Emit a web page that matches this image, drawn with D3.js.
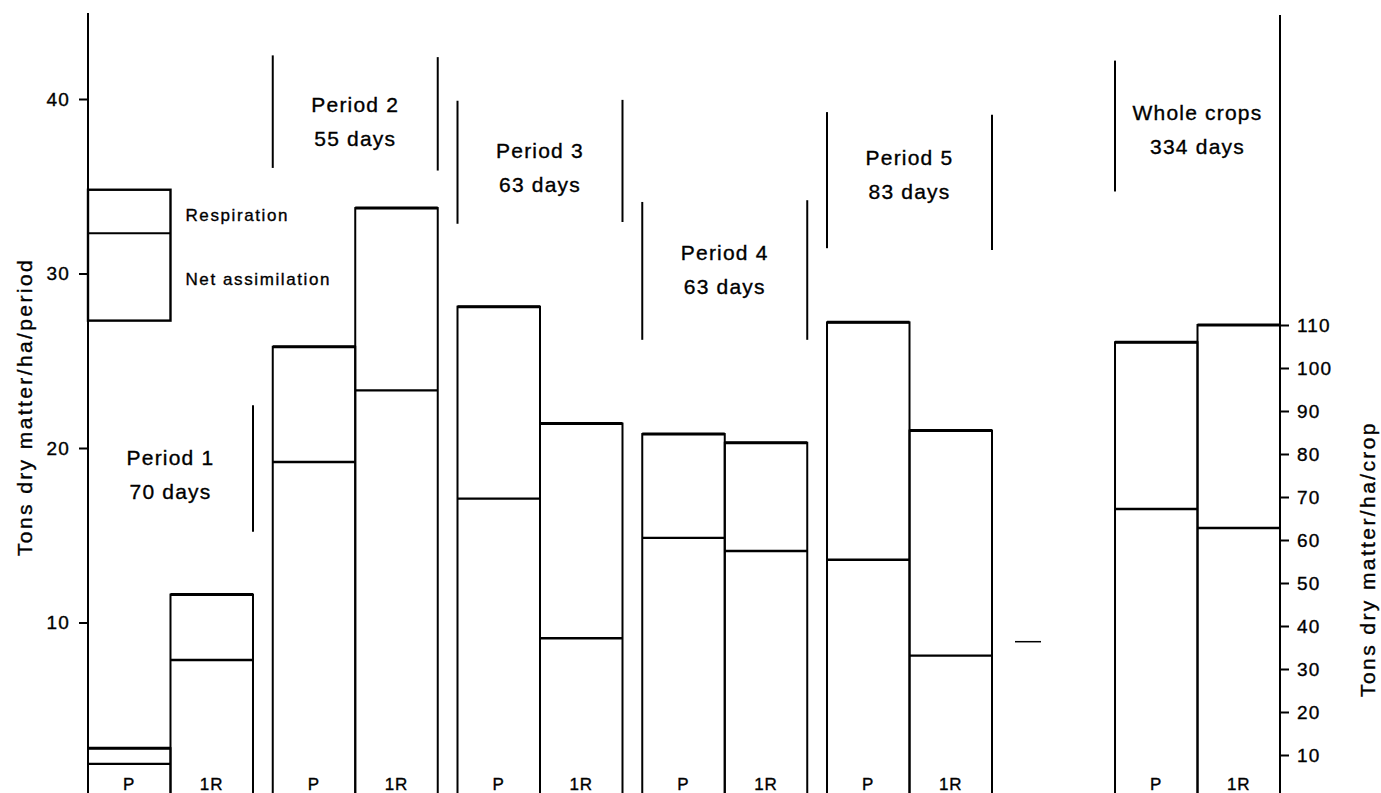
<!DOCTYPE html>
<html>
<head>
<meta charset="utf-8">
<script src="https://cdn.jsdelivr.net/npm/d3@7"></script>
<style>
  body { margin: 0; background: #fff; }
  svg { display: block; font-family: "Liberation Sans", Arial, sans-serif; }
  svg text { stroke: #000; stroke-width: 0.35px; }
</style>
</head>
<body>
<div id="container"></div>
<script>
/* CONSTANTS AND GLOBALS */
const width = 1381;
const height = 793;
const axisLeftX = 88;
const axisRightX = 1280;

/* DATA */
const periods = ["Period 1", "Period 2", "Period 3", "Period 4", "Period 5"];
const periodDays = ["70 days", "55 days", "63 days", "63 days", "83 days"];
const crops = ["P", "1R"];
// tons dry matter / ha / period (left axis)
const totalP = [2.8, 25.8, 28.1, 20.8, 27.2];
const netP = [1.9, 19.2, 17.1, 14.85, 13.6];
const total1R = [11.6, 33.75, 21.4, 20.3, 21.0];
const net1R = [7.85, 23.3, 9.1, 14.1, 8.1];
// whole crops, tons dry matter / ha / crop (right axis)
const wholeName = "Whole crops";
const wholeDays = "334 days";
const wholeTotal = [106, 110];
const wholeNet = [67.2, 62.8];
// legend levels (left axis units)
const legendLevels = [27.3, 32.3, 34.8];
const legendLabels = ["Net assimilation", "Respiration"];
// bracket lines beside the period titles [top, bottom] in left axis units
const bracketLeft = [null, [42.5, 36.05], [39.9, 32.85], [34.1, 26.2], [39.25, 31.45], [42.2, 34.7]];
const bracketRight = [[22.45, 15.2], [42.4, 35.9], [39.95, 32.95], [34.2, 26.2], [39.1, 31.35], null];
const titleAt = [19.0, 39.25, 36.6, 30.75, 36.2, 38.8];
const leftTicks = [10, 20, 30, 40];
const rightTicks = [10, 20, 30, 40, 50, 60, 70, 80, 90, 100, 110];

const svg = d3.select("#container").append("svg")
  .attr("width", width)
  .attr("height", height);

/* SCALES */
const yLeft = d3.scaleLinear().domain([0, 40]).range([797, 99]);
const yRight = d3.scaleLinear().domain([0, 110]).range([798, 325]);

const xGroup = d3.scaleBand()
  .domain(periods)
  .range([axisLeftX, 992])
  .paddingInner(0.107)
  .paddingOuter(0);
const bw = xGroup.bandwidth();
// whole crops sit against the right axis
const groupStart = name => name === wholeName ? axisRightX - bw : xGroup(name);
const xCrop = d3.scaleBand().domain(crops).range([0, bw]).padding(0);

const groupNames = periods.concat([wholeName]);
const groupDays = periodDays.concat([wholeDays]);

const bars = [];
periods.forEach((p, i) => {
  bars.push({ group: p, crop: "P", total: totalP[i], net: netP[i], y: yLeft });
  bars.push({ group: p, crop: "1R", total: total1R[i], net: net1R[i], y: yLeft });
});
crops.forEach((c, i) => {
  bars.push({ group: wholeName, crop: c, total: wholeTotal[i], net: wholeNet[i], y: yRight });
});

/* BARS */
const g = svg.append("g");
g.selectAll("rect.bar")
  .data(bars)
  .join("rect")
  .attr("class", "bar")
  .attr("x", d => groupStart(d.group) + xCrop(d.crop))
  .attr("y", d => d.y(d.total))
  .attr("width", xCrop.bandwidth())
  .attr("height", d => d.y(0) - d.y(d.total))
  .attr("fill", "none")
  .attr("stroke", "#000")
  .attr("stroke-width", 2);

// heavier top edge
g.selectAll("line.top")
  .data(bars)
  .join("line")
  .attr("class", "top")
  .attr("x1", d => groupStart(d.group) + xCrop(d.crop))
  .attr("x2", d => groupStart(d.group) + xCrop(d.crop) + xCrop.bandwidth())
  .attr("y1", d => d.y(d.total))
  .attr("y2", d => d.y(d.total))
  .attr("stroke", "#000")
  .attr("stroke-width", 3);

g.selectAll("line.net")
  .data(bars)
  .join("line")
  .attr("class", "net")
  .attr("x1", d => groupStart(d.group) + xCrop(d.crop))
  .attr("x2", d => groupStart(d.group) + xCrop(d.crop) + xCrop.bandwidth())
  .attr("y1", d => d.y(d.net))
  .attr("y2", d => d.y(d.net))
  .attr("stroke", "#000")
  .attr("stroke-width", 2.4);

g.selectAll("text.crop")
  .data(bars)
  .join("text")
  .attr("class", "crop")
  .attr("x", d => groupStart(d.group) + xCrop(d.crop) + xCrop.bandwidth() / 2)
  .attr("y", 790)
  .attr("text-anchor", "middle")
  .attr("font-size", 17)
  .attr("letter-spacing", 1)
  .text(d => d.crop);

/* LEGEND */
const lx0 = xGroup(periods[0]);
const lx1 = lx0 + xCrop.bandwidth();
const legend = svg.append("g");
legend.append("rect")
  .attr("x", lx0)
  .attr("y", yLeft(legendLevels[2]))
  .attr("width", lx1 - lx0)
  .attr("height", yLeft(legendLevels[0]) - yLeft(legendLevels[2]))
  .attr("fill", "none")
  .attr("stroke", "#000")
  .attr("stroke-width", 2.4);
legend.append("line")
  .attr("x1", lx0).attr("x2", lx1)
  .attr("y1", yLeft(legendLevels[1])).attr("y2", yLeft(legendLevels[1]))
  .attr("stroke", "#000").attr("stroke-width", 2);
legend.selectAll("text")
  .data(legendLabels)
  .join("text")
  .attr("x", lx1 + 15)
  .attr("y", (d, i) => i === 0 ? 285 : 221)
  .attr("font-size", 17)
  .attr("letter-spacing", 1.6)
  .text(d => d);

/* PERIOD TITLES AND BRACKETS */
const ann = svg.append("g");
groupNames.forEach((name, i) => {
  const x0 = groupStart(name);
  const x1 = x0 + bw;
  [[bracketLeft[i], x0], [bracketRight[i], x1]].forEach(([ext, x]) => {
    if (!ext) return;
    ann.append("line")
      .attr("x1", x).attr("x2", x)
      .attr("y1", yLeft(ext[0])).attr("y2", yLeft(ext[1]))
      .attr("stroke", "#000").attr("stroke-width", 2);
  });
  const t = ann.append("text")
    .attr("x", x0 + bw / 2)
    .attr("y", yLeft(titleAt[i]))
    .attr("text-anchor", "middle")
    .attr("font-size", 21)
    .attr("letter-spacing", 1.2);
  t.append("tspan").attr("x", x0 + bw / 2).text(name);
  t.append("tspan").attr("x", x0 + bw / 2).attr("dy", 34).text(groupDays[i]);
});

// small stray mark between period 5 and whole crops
const strayLevel = 8.9;
ann.append("line")
  .attr("x1", 1015).attr("x2", 1041)
  .attr("y1", yLeft(strayLevel)).attr("y2", yLeft(strayLevel))
  .attr("stroke", "#000").attr("stroke-width", 1.5);

/* AXES */
const leftAxis = svg.append("g")
  .attr("transform", `translate(${axisLeftX},0)`)
  .call(d3.axisLeft(yLeft).tickValues(leftTicks).tickSize(9).tickPadding(9));
const rightAxis = svg.append("g")
  .attr("transform", `translate(${axisRightX},0)`)
  .call(d3.axisRight(yRight).tickValues(rightTicks).tickSize(9).tickPadding(8));

[leftAxis, rightAxis].forEach(ax => {
  ax.select(".domain").remove();
  ax.selectAll(".tick line").attr("stroke", "#000").attr("stroke-width", 2);
  ax.selectAll(".tick text")
    .attr("fill", "#000")
    .attr("font-size", 19)
    .attr("letter-spacing", 1.2)
    .attr("font-family", "Liberation Sans, Arial, sans-serif");
});

svg.append("line")
  .attr("x1", axisLeftX).attr("x2", axisLeftX)
  .attr("y1", 13).attr("y2", height)
  .attr("stroke", "#000").attr("stroke-width", 2);
svg.append("line")
  .attr("x1", axisRightX).attr("x2", axisRightX)
  .attr("y1", 15).attr("y2", height)
  .attr("stroke", "#000").attr("stroke-width", 2);

svg.append("text")
  .attr("transform", "translate(32,407) rotate(-90)")
  .attr("text-anchor", "middle")
  .attr("font-size", 21)
  .attr("letter-spacing", 2.4)
  .text("Tons dry matter/ha/period");

svg.append("text")
  .attr("transform", "translate(1375,559) rotate(-90)")
  .attr("text-anchor", "middle")
  .attr("font-size", 21)
  .attr("letter-spacing", 2.4)
  .text("Tons dry matter/ha/crop");
</script>
</body>
</html>
